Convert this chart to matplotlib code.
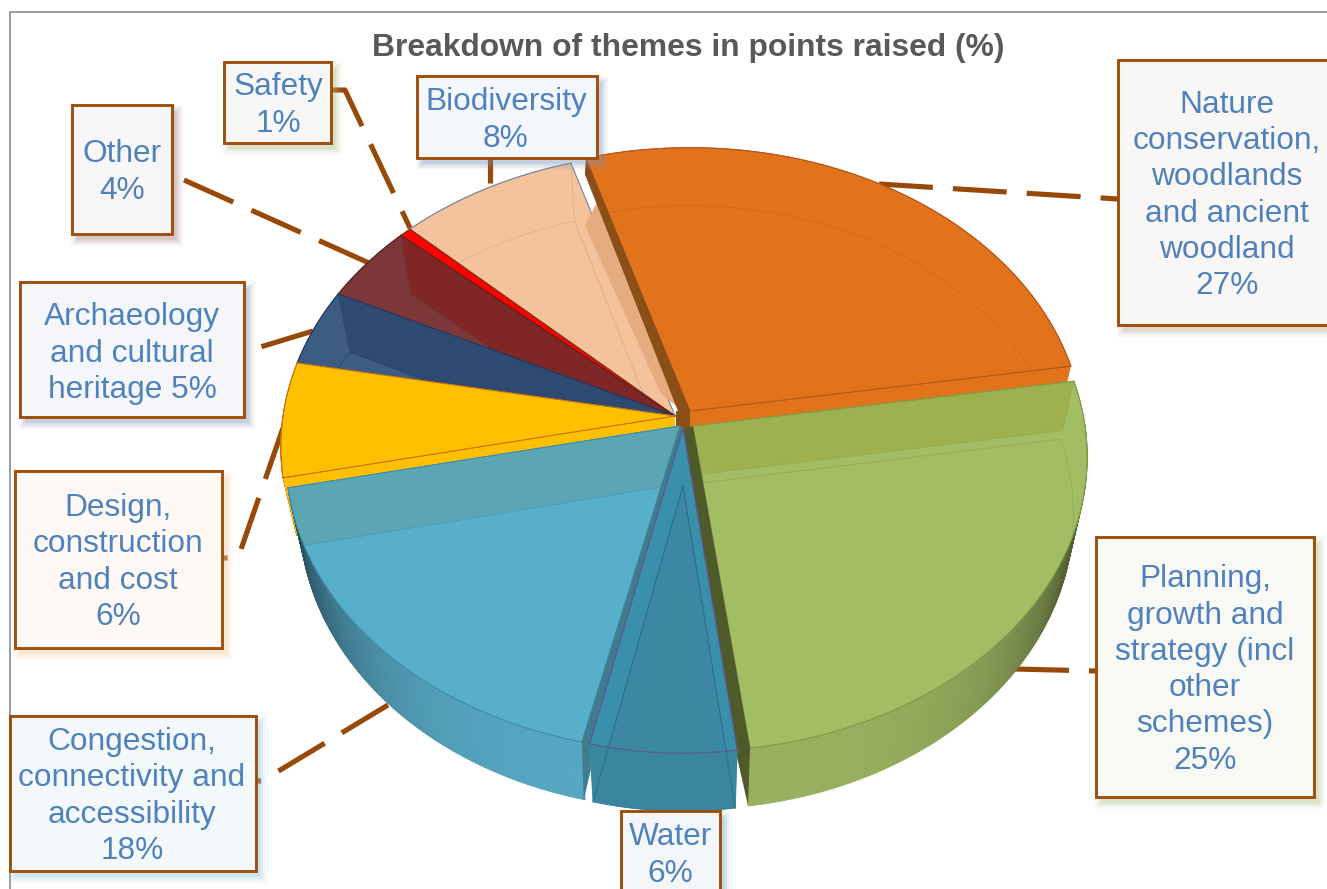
import matplotlib
matplotlib.use("Agg")
import matplotlib.pyplot as plt
import numpy as np
from matplotlib.collections import PolyCollection
from matplotlib.colors import to_rgb
from matplotlib.patches import Polygon, Rectangle

# Data, in drawing order round the pie (clockwise)
themes = ["Nature\nconservation,\nwoodlands\nand ancient\nwoodland\n",
          "Planning,\ngrowth and\nstrategy (incl\nother\nschemes)\n",
          "Water\n",
          "Congestion,\nconnectivity and\naccessibility\n",
          "Design,\nconstruction\nand cost\n",
          "Archaeology\nand cultural\nheritage ",
          "Other\n",
          "Safety\n",
          "Biodiversity\n"]
shares = [27, 25, 6, 18, 6, 5, 4, 1, 8]
title = "Breakdown of themes in points raised (%)"

# Slice styles
top_colours = ["#E1731B", "#A2BD64", "#3A8FAB", "#58AFCA", "#FFC000", "#3C5C84", "#7C3838", "#FF0000", "#F4C29B"]
base_colours = ["#E1731B", "#A2BD64", "#3C88A3", "#58AFCA", "#FFC000", "#3C5C84", "#7C3838", "#FF0000", "#F4C29B"]
through_colours = ["#E1731B", "#9DB24E", None, "#5BA6B2", "#FFC000", "#2F4A70", "#7F2626", None, "#F4C29B"]
wall_colours = ["#E1731B", "#98B05E", "#39849E", "#55A6C2", "#E8871A", "#2F4A70", "#7F2626", "#FF0000", "#E5AC80"]
edge_colours = ["#B5561B", "#7F9A48", "#5C5A90", "#3F8CA8", "#C8700F", "#1F3A66", "#5E2020", "#8A3010", "#7D8AA0"]
base_edges = ["#CC6A1E", "#8FAA52", "#2E6F8A", "#4A9DBB", "none", "#2A4468", "#6E3030", "none", "#E0AE88"]
apexes = [(690, 411), (693, 426), (683, 428), (680, 426), (675, 416), (675, 416), (675, 416), (675, 416), (675, 416)]
rx_scales = [1, 1, 0.95, 1, 1, 1, 1, 1, 1]
# Which rim end carries the far wall seen through the slice (0 first, -1 last)
far_edges = [0, 0, None, -1, -1, -1, -1, None, -1]
far_depths = [1, 0.85, 1, 1, 1, 1, 1, 1, 1]
# Which rim end has a radial wall facing the viewer
front_edges = [-1, None, None, None, 0, None, None, None, None]

# Label boxes: left, top, right, bottom, then centre of the text
boxes = [(1118, 60, 1340, 325), (1096, 537, 1314, 797), (621, 811, 720, 900), (10, 716, 256, 871),
         (15, 471, 222, 648), (20, 282, 244, 417), (72, 105, 172, 234), (224, 62, 331, 143), (417, 76, 597, 158)]
text_centres = [(1227, 195.5), (1205, 670), (670, 855.5), (132, 796.5), (118, 562.5), (132, 353.5), (122, 172.5),
                (278, 105.5), (506, 120.5)]
box_fills = ["#F9F7F5", "#F8F9F5", "#F3F7F9", "#F3F8FB", "#FEF9F4", "#F4F6FA", "#F8F6F8", "#F7F8F6", "#F3F6FA"]
shadow_colours = ["#B9A48F", "#A9BC80", "#6FA9C0", "#8CC6DC", "#F3C79E", "#7D93B5", "#A57F7F", "#A9BC80", "#7D93B5"]

# Leader lines, from the slice out to its box
leaders = [[(879, 184), (1118, 199)],
           [(1015, 669), (1096, 671)],
           [],
           [(388, 705), (262, 781), (256, 781)],
           [(283, 428), (238, 558), (222, 558)],
           [(313, 331), (244, 352)],
           [(184, 180), (369, 263)],
           [(331, 90), (345, 90), (410, 228)],
           [(490, 183), (490, 158)]]

# Pie shape on the page
start_angle = 106
# Small hand-fitted correction of the rim angles for the tilted view
view_skew = [1, 0.2, -1.3, -0.2, -0.4, -1.5, 1.2, 0, 1.7, 1]
rx, ry, tilt = 392, 291, 0.105
depth, base_scale = 58, 0.965

text_blue = "#4F81BD"
leader_brown = "#984807"


def rim(i, angles):
    apex = apexes[i]
    t = np.radians(angles)
    d = 1 + tilt * np.sin(t)
    return np.column_stack((apex[0] + rx * rx_scales[i] * np.cos(t) / d, apex[1] - ry * np.sin(t) / d))


def lower(apex, pts):
    # Bottom of the solid: a little narrower and one depth further down
    pts = np.asarray(pts, dtype=float)
    return np.column_stack((apex[0] + (pts[:, 0] - apex[0]) * base_scale, pts[:, 1] + depth))


def shade(i, angles):
    # The outer wall darkens as it turns away towards the sides
    if i == 4:
        return [to_rgb(wall_colours[i])] * len(angles)
    f = 1 - 0.58 * np.abs(np.cos(np.radians(angles))) ** 4
    return [tuple(np.array(to_rgb(wall_colours[i])) * v) for v in f]


def draw_slice(ax, i, a0, a1, zorder):
    apex = np.array(apexes[i], dtype=float)
    angles = np.linspace(a0, a1, 180)
    outer = rim(i, angles)
    inner = lower(apex, outer)
    low_apex = lower(apex, [apex])[0]

    # Outer wall, only where it faces the viewer
    quads, cols = [], []
    for j in range(len(angles) - 1):
        if np.sin(np.radians(angles[j])) < 0.02:
            quads.append([outer[j], outer[j + 1], inner[j + 1], inner[j]])
            cols.append(shade(i, angles[j:j + 1])[0])
    if quads:
        ax.add_collection(PolyCollection(quads, facecolors=cols, edgecolors=cols, linewidths=0.5, zorder=zorder))

    # Radial wall along the front edge
    k = front_edges[i]
    if k is not None:
        ax.add_patch(Polygon(np.array([apex, outer[k], inner[k], low_apex]), closed=True, facecolor=top_colours[i],
                             edgecolor="none", zorder=zorder + 0.1))

    # Top face, with the base and the far wall showing through it
    top = Polygon(np.vstack(([apex], outer)), closed=True, facecolor=top_colours[i], edgecolor=edge_colours[i],
                  linewidth=0.7, zorder=zorder + 0.2)
    ax.add_patch(top)
    base = Polygon(np.vstack(([low_apex], inner)), closed=True, facecolor=base_colours[i],
                   edgecolor=base_edges[i], linewidth=0.5, zorder=zorder + 0.3)
    ax.add_patch(base)
    base.set_clip_path(top)
    k = far_edges[i]
    if k is not None:
        f = far_depths[i]
        far = Polygon(np.array([apex, outer[k], outer[k] + (inner[k] - outer[k]) * f, apex + (low_apex - apex) * f]),
                      closed=True, facecolor=through_colours[i], edgecolor=base_edges[i], linewidth=0.5,
                      zorder=zorder + 0.35)
        ax.add_patch(far)
        far.set_clip_path(top)
    # Lines of the top face over the wall
    ax.plot(outer[:, 0], outer[:, 1], color=edge_colours[i], lw=0.7, zorder=zorder + 0.4)
    ax.plot([apex[0], outer[-1, 0]], [apex[1], outer[-1, 1]], color=edge_colours[i], lw=0.7, zorder=zorder + 0.4)
    ax.plot([apex[0], outer[0, 0]], [apex[1], outer[0, 1]], color=edge_colours[i], lw=0.7, zorder=zorder + 0.4)
    return outer, inner, low_apex


def plot_pie(ax):
    edges = start_angle - 3.6 * np.concatenate(([0], np.cumsum(shares))) + np.array(view_skew)
    # Far slices first, the exploded front ones on top
    order = [8, 7, 6, 5, 4, 0, 3, 1, 2]
    for z, i in enumerate(order):
        outer, inner, low_apex = draw_slice(ax, i, edges[i], edges[i + 1], 5 + z)
        apex = np.array(apexes[i], dtype=float)
        if i == 8:
            # Darker wall showing through on the orange side, running in under it
            ax.add_patch(Polygon([outer[-1] + (26, 40), apex + (6, -6), apex + (-14, -22), outer[-1] + (14, 62)],
                                 closed=True, facecolor="#E5AC80", edgecolor="none", zorder=5 + z + 0.5))
        if i == 0:
            # Side wall and the stem of the slice down at the centre
            ax.add_patch(Polygon([outer[0], apex, apex + (-12, 0), outer[0] + (-1, 16)], closed=True,
                                 facecolor="#8A4E18", edgecolor="none", zorder=5 + z + 0.5))
            ax.add_patch(Polygon([apex, apex + (-14, 0), apex + (-14, 40), apex + (0, 40)], closed=True,
                                 facecolor="#8A4E18", edgecolor="none", zorder=5 + z + 0.5))
            ax.add_patch(Polygon([apex, apex + (4, 0), apex + (4, 62), apex + (0, 62)], closed=True,
                                 facecolor=top_colours[i], edgecolor="none", zorder=5 + z + 0.5))
        if i == 3:
            ax.add_patch(Polygon([outer[0], outer[0] + (2, 58), outer[0] + (9, 28), outer[0] + (9, 3), apex + (3, 2),
                                  apex], closed=True, facecolor="#3F7C8E", edgecolor="none", zorder=5 + z + 0.5))
        if i == 1:
            # Dark side wall, running in under the water slice
            ax.add_patch(Polygon([outer[-1], outer[-1] + (-2, 58), outer[-1] + (-14, 5), apex + (-12, 4), apex],
                                 closed=True, facecolor="#4F5A2B", edgecolor="none", zorder=5 + z + 0.5))
        if i == 2:
            # Edges of the base seen through the wall of the front slice
            ax.plot([inner[0, 0], low_apex[0], inner[-1, 0]], [inner[0, 1], low_apex[1], inner[-1, 1]],
                    color="#2E6F8A", lw=0.7, zorder=5 + z + 0.5)


def plot_labels(ax):
    for i, name in enumerate(themes):
        x0, y0, x1, y1 = boxes[i]
        # Soft tinted shadow made of stacked rectangles
        for grow, alpha in [(6, 0.07), (4, 0.1), (2, 0.14), (0, 0.2)]:
            ax.add_patch(Rectangle((x0 + 5 - grow, y0 + 6 - grow), x1 - x0 + 2 * grow, y1 - y0 + 2 * grow,
                                   facecolor=shadow_colours[i], edgecolor="none", alpha=alpha, zorder=30))
        ax.add_patch(Rectangle((x0, y0), x1 - x0, y1 - y0, facecolor=box_fills[i], edgecolor="#A04E0A",
                               linewidth=2.1, zorder=31))
        ax.text(text_centres[i][0], text_centres[i][1], "{}{}%".format(name, shares[i]), ha="center", va="center",
                fontsize=22.8, color=text_blue, linespacing=1.27, zorder=32)


def plot_leaders(ax):
    for path in leaders:
        if path:
            xs, ys = zip(*path)
            ax.plot(xs, ys, color=leader_brown, lw=3.7, linestyle=(0, (10.5, 3.9)), dash_capstyle="butt",
                    solid_joinstyle="miter", zorder=2)


plt.rcParams["font.family"] = ["Liberation Sans", "DejaVu Sans"]
fig = plt.figure(figsize=(13.27, 8.89), dpi=100)
ax = fig.add_axes([0, 0, 1, 1])
ax.set_xlim(0, 1327)
ax.set_ylim(889, 0)
ax.axis("off")

# Chart frame, open at the right and the bottom
ax.plot([10, 10, 1327], [889, 12, 12], color="#8C8C8C", lw=1.2, zorder=1)
ax.text(688, 48, title, ha="center", va="center", fontsize=22.9, fontweight="bold", color="#595959", zorder=3)

plot_leaders(ax)
plot_pie(ax)
plot_labels(ax)

fig.savefig("out.png", dpi=100)
